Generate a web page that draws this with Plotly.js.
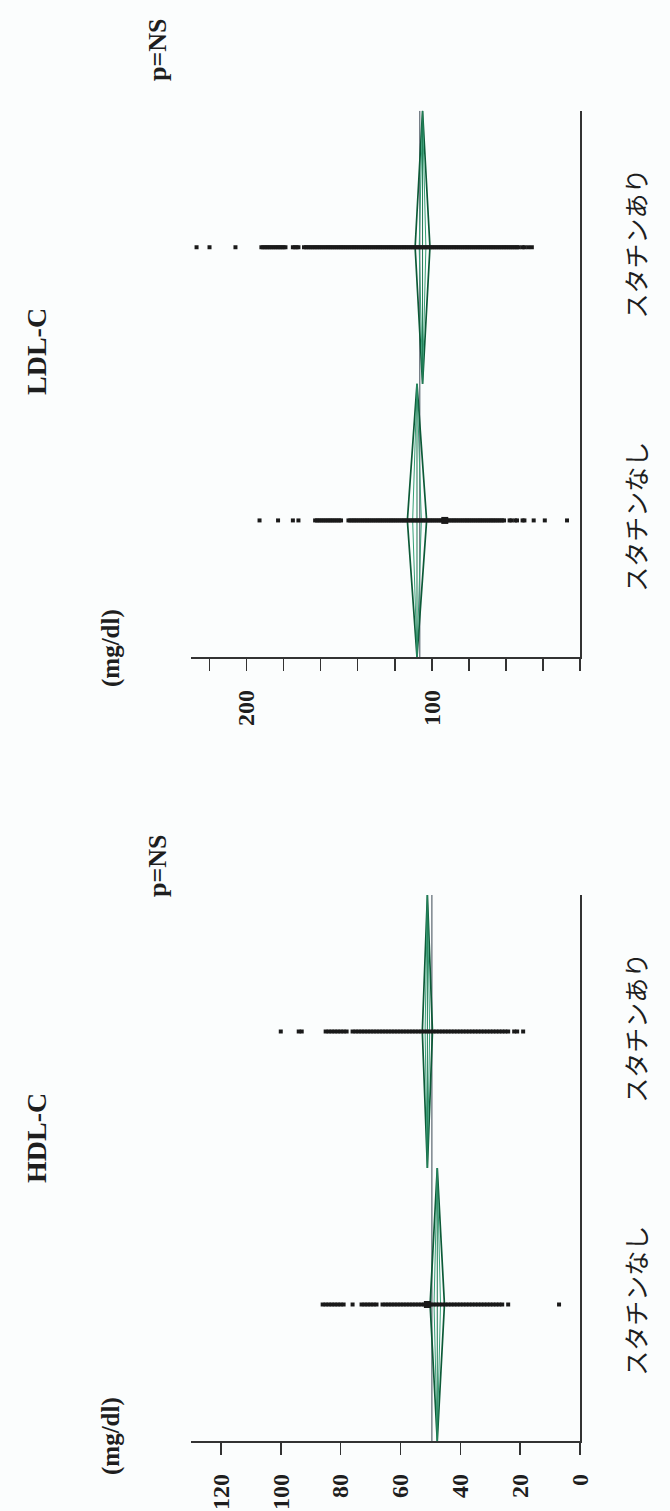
<!DOCTYPE html>
<html><head><meta charset="utf-8">
<script src="https://cdn.plot.ly/plotly-3.0.1.min.js"></script>
<style>html,body{margin:0;padding:0;background:#fbfdfd;}</style>
</head><body><div id="chart" style="width:670px;height:1511px;"></div>
<script>
// ---------- data ----------
const categories = ['スタチンなし', 'スタチンあり'];

// HDL-C (mg/dl) individual values
const hdlNone = [86,85,84,83,82,81,80,79,76,73,72,71,70,69,68,66,65,64,63,62,61,60,59,58,57,56,55,54,53,52,51,50,49,48,47,46,45,44,43,42,41,40,39,38,37,36,35,34,33,32,31,30,29,28,27,26,24,7];
const hdlStatin = [100,94,93,85,84,83,82,81,80,79,78,76,75,74,73,72,71,70,69,68,67,66,65,64,63,62,61,60,59,58,57,56,55,54,53,52,51,50,49,48,47,46,45,44,43,42,41,40,39,38,37,36,35,34,33,32,31,30,29,28,27,26,25,24,22,21,19];
const hdlMarked = [51];          // emphasised point (スタチンなし)
const hdlMeans = [47.7, 51.0];
const hdlCI = [2.4, 1.7];        // half-width of 95% CI
const hdlGrand = 49.5;

// LDL-C (mg/dl) individual values
const ldlNone = [193,183,175,172,163,162,161,160,159,158,157,156,155,154,153,152,151,150,149,145,144,143,142,141,140,139,138,137,136,135,134,133,132,131,130,129,128,127,126,125,124,123,122,121,120,119,118,117,116,115,114,113,112,111,110,109,108,107,106,105,104,103,102,101,100,99,98,97,96,95,94,93,92,91,90,89,88,87,86,85,84,83,82,81,80,79,78,77,76,75,74,73,72,71,70,69,68,67,66,65,64,63,62,61,58,57,55,54,51,50,45,39,27];
const ldlStatin = [227,220,206,192,191,190,189,188,187,186,185,184,183,182,181,180,179,175,174,173,172,169,168,167,166,165,164,163,162,161,160,159,158,157,156,155,154,153,152,151,150,149,148,147,146,145,144,143,142,141,140,139,138,137,136,135,134,133,132,131,130,129,128,127,126,125,124,123,122,121,120,119,118,117,116,115,114,113,112,111,110,109,108,107,106,105,104,103,102,101,100,99,98,97,96,95,94,93,92,91,90,89,88,87,86,85,84,83,82,81,80,79,78,77,76,75,74,73,72,71,70,69,68,67,66,65,64,63,62,61,60,59,58,57,56,55,54,53,51,50,48,46];
const ldlMarked = [93];
const ldlMeans = [108, 105];
const ldlCI = [5.2, 4.0];
const ldlGrand = 106.5;

const hdlTicks = [0,20,40,60,80,100,120];
const ldlTicks = [100,200];

// ---------- helpers ----------
const W = 670, H = 1511;
const fx = v => v / W;
const fy = v => 1 - v / H;

const OUTER = '#0c5a37', INNER = '#35a077', GRAND = '#5b6670', DOT = '#1a1a1a';

function panel(xa, ya, groups, marked, means, ci, grand) {
  const tr = [];
  tr.push({x:[grand,grand], y:[-0.5,1.5], xaxis:xa, yaxis:ya, mode:'lines',
           line:{color:GRAND, width:1.2}, hoverinfo:'skip'});
  means.forEach((m, i) => {
    const h = ci[i];
    tr.push({x:[m, m-h, m, m+h, m], y:[i-0.5, i, i+0.5, i, i-0.5], xaxis:xa, yaxis:ya,
             mode:'lines', line:{color:OUTER, width:1.7}, hoverinfo:'skip'});
    const k = 0.45*h;
    tr.push({x:[m, m-k, m, m+k, m], y:[i-0.5, i, i+0.5, i, i-0.5], xaxis:xa, yaxis:ya,
             mode:'lines', line:{color:INNER, width:1}, hoverinfo:'skip'});
    tr.push({x:[m, m], y:[i-0.5, i+0.5], xaxis:xa, yaxis:ya,
             mode:'lines', line:{color:'#1f7a52', width:1}, hoverinfo:'skip'});
  });
  groups.forEach((g, i) => {
    tr.push({x:g, y:g.map(() => i), xaxis:xa, yaxis:ya, mode:'markers',
             marker:{symbol:'square', size:4, color:DOT, line:{width:0}}, hoverinfo:'x'});
  });
  tr.push({x:marked, y:marked.map(() => 0), xaxis:xa, yaxis:ya, mode:'markers',
           marker:{symbol:'square', size:7, color:DOT, line:{width:0}}, hoverinfo:'x'});
  return tr;
}

const traces = [
  ...panel('x', 'y', [ldlNone, ldlStatin], ldlMarked, ldlMeans, ldlCI, ldlGrand),
  ...panel('x2', 'y2', [hdlNone, hdlStatin], hdlMarked, hdlMeans, hdlCI, hdlGrand)
];

const serif = 'Liberation Serif, Times New Roman, serif';
const bold = (size) => ({family:serif, size:size, color:'#1e1e1e', weight:'bold'});
const jp = {family:'Noto Sans CJK JP, sans-serif', size:25, color:'#1e1e1e'};

const xdom = [fx(191), fx(580)];
const baseX = {
  domain: xdom, showgrid:false, zeroline:false, showline:true, linecolor:'#333', linewidth:1.5,
  ticks:'outside', ticklen:12, tickwidth:1.5, tickcolor:'#333', tickangle:-90,
  tickfont: bold(24), ticklabelstandoff: 10, fixedrange:true
};
const baseY = {
  range:[-0.5,1.5], side:'right', showgrid:false, zeroline:false, showline:true,
  linecolor:'#333', linewidth:1.5, ticks:'', tickvals:[0,1], ticktext:categories,
  tickangle:-90, tickfont: jp, ticklabelstandoff: 34, fixedrange:true
};

const layout = {
  width:W, height:H, margin:{l:0, r:0, t:0, b:0},
  paper_bgcolor:'#fbfdfd', plot_bgcolor:'rgba(0,0,0,0)', showlegend:false,
  xaxis: Object.assign({}, baseX, {anchor:'y', range:[230,20], tickmode:'array', tickvals:ldlTicks,
          minor:{dtick:20, tick0:0, ticks:'outside', ticklen:12, tickwidth:1.5, tickcolor:'#333'}}),
  yaxis: Object.assign({}, baseY, {anchor:'x', domain:[fy(657), fy(110.7)]}),
  xaxis2: Object.assign({}, baseX, {anchor:'y2', range:[130,0], tickmode:'array', tickvals:hdlTicks}),
  yaxis2: Object.assign({}, baseY, {anchor:'x2', domain:[fy(1441), fy(895)]}),
  annotations: [
    {text:'LDL-C', x:fx(36), y:fy(352), font:bold(28)},
    {text:'(mg/dl)', x:fx(111), y:fy(648), font:bold(25)},
    {text:'p=NS', x:fx(157), y:fy(50), font:bold(26)},
    {text:'HDL-C', x:fx(36), y:fy(1138), font:bold(28)},
    {text:'(mg/dl)', x:fx(111), y:fy(1436), font:bold(25)},
    {text:'p=NS', x:fx(157), y:fy(866), font:bold(26)}
  ].map(a => Object.assign({xref:'paper', yref:'paper', showarrow:false, textangle:-90,
                            xanchor:'center', yanchor:'middle'}, a))
};

Plotly.newPlot('chart', traces, layout, {displayModeBar:false, staticPlot:true});
</script>
</body></html>
